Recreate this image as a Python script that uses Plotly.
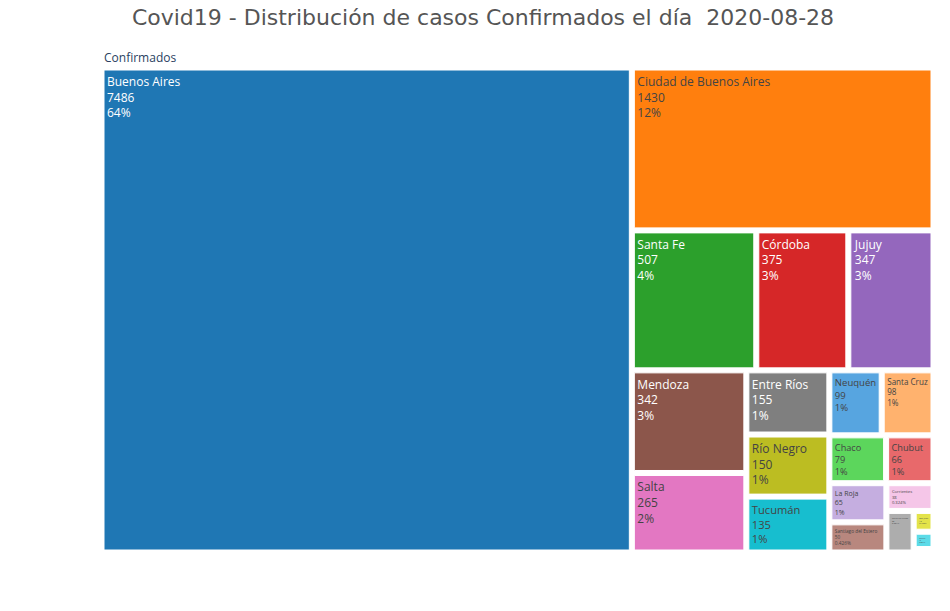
import plotly.graph_objects as go

provincias = ["Buenos Aires", "Ciudad de Buenos Aires", "Santa Fe", "Córdoba", "Jujuy", "Mendoza", "Salta",
              "Entre Ríos", "Río Negro", "Tucumán", "Neuquén", "Santa Cruz", "Chaco", "Chubut", "La Roja",
              "Santiago del Estero", "Corrientes", "Tierra del Fuego", "San Juan", "San Luis", "Formosa"]
confirmados = [7486, 1430, 507, 375, 347, 342, 265, 155, 150, 135, 99, 98, 79, 66, 65, 50, 38, 33, 12, 10, 2]
colores = ["#1f77b4", "#ff7f0e", "#2ca02c", "#d62728", "#9467bd", "#8c564b", "#e377c2", "#7f7f7f", "#bcbd22",
           "#17becf", "#57a5e0", "#ffb26e", "#5cd65c", "#e8696b", "#c5aee0", "#b8877e", "#f5c6e8", "#adadad",
           "#e3e34a", "#5cdbe8", "#ffffff"]

total = sum(confirmados)
labels = ["Confirmados"] + provincias
parents = [""] + ["Confirmados"] * len(provincias)
values = [total] + confirmados

fig = go.Figure(go.Treemap(
    labels=labels,
    parents=parents,
    values=values,
    branchvalues="total",
    textinfo="label+value+percent root",
    marker=dict(colors=["#ffffff"] + colores, line=dict(width=1, color="white")),
    pathbar=dict(visible=True, thickness=20),
    root=dict(color="white"),
    tiling=dict(pad=5),
    sort=True,
    textposition="top left",
))

fig.update_layout(
    title=dict(text="Covid19 - Distribución de casos Confirmados el día  2020-08-28",
               x=0.5, xanchor="center", y=0.985, yanchor="middle",
               font=dict(family="DejaVu Sans", size=22, color="#555555")),
    margin=dict(l=90, r=21, t=38, b=63),
    width=950,
    height=611,
    paper_bgcolor="white",
)

fig.write_html("out.html")
